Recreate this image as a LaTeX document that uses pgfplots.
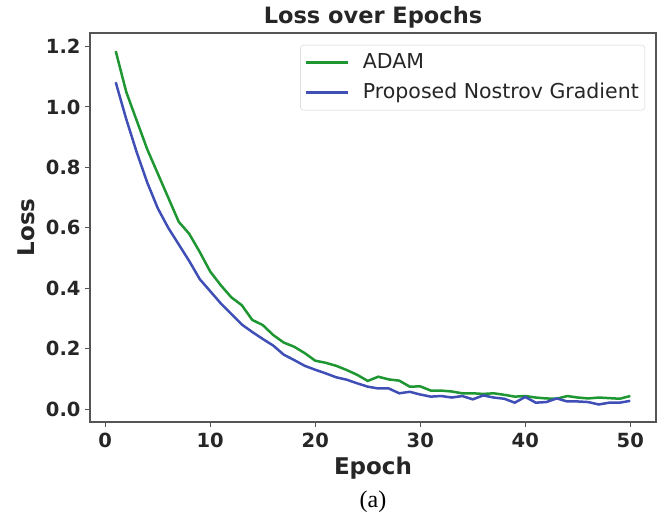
\documentclass[border=0pt]{standalone}
\usepackage{fontspec}
\setmainfont{DejaVu Sans}
\newfontfamily\capfont{Liberation Serif}
\usepackage{pgfplots}
\pgfplotsset{compat=1.18}
\definecolor{adamgreen}{HTML}{1E9632}
\definecolor{nestblue}{HTML}{3F4FB5}
\definecolor{framegray}{HTML}{555555}

\begin{document}
\begin{tikzpicture}
\useasboundingbox (-90bp,-92bp) rectangle (576bp,422bp);
\begin{axis}[
    at={(0,0)}, anchor=south west,
    scale only axis,
    width=566bp, height=389bp,
    xmin=-1.45, xmax=52.45,
    ymin=-0.043, ymax=1.245,
    xtick={0,10,20,30,40,50},
    ytick={0,0.2,0.4,0.6,0.8,1.0,1.2},
    xtick pos=left, ytick pos=left,
    tick align=outside,
    major tick length=5bp,
    tick style={framegray, line width=1bp},
    axis line style={framegray, line width=1.2bp},
    /pgf/number format/assume math mode=true,
    yticklabel style={/pgf/number format/fixed, /pgf/number format/fixed zerofill,
        /pgf/number format/precision=1, xshift=-1bp},
    ticklabel style={font=\fontsize{19.5bp}{21bp}\selectfont\bfseries, text=black!85},
    xticklabel style={yshift=-3bp},
    every axis title shift=0pt,
    title={Loss over Epochs},
    title style={font=\fontsize{22.5bp}{24bp}\selectfont\bfseries, text=black!85,
        at={(axis description cs:0.5,1)}, anchor=base, yshift=9bp, inner sep=0pt},
    xlabel={Epoch},
    xlabel style={font=\fontsize{23bp}{25bp}\selectfont\bfseries, text=black!85,
        at={(axis description cs:0.5,0)}, anchor=base, yshift=-52bp, inner sep=0pt},
    ylabel={Loss},
    ylabel style={font=\fontsize{23bp}{25bp}\selectfont\bfseries, text=black!85,
        at={(axis description cs:0,0.5)}, anchor=base, yshift=55bp, inner sep=0pt},
    legend style={at={(1,1)}, anchor=north east, xshift=-11bp, yshift=-12bp,
        draw=black!18, rounded corners=3bp, fill=white,
        font=\fontsize{20.5bp}{22bp}\selectfont, text=black!85,
        inner xsep=4bp, inner ysep=6bp, row sep=7bp, column sep=12bp,
        nodes={inner sep=2bp, text height=15bp, text depth=4bp}},
    legend cell align=left,
    legend image code/.code={\draw[#1] (0bp,0bp) -- (42bp,0bp);},
]
\addplot[adamgreen, line width=2.5bp] coordinates {
(1,1.185) (2,1.05) (3,0.955) (4,0.86) (5,0.78) (6,0.70) (7,0.62) (8,0.58)
(9,0.52) (10,0.455) (11,0.41) (12,0.37) (13,0.344) (14,0.295) (15,0.278)
(16,0.245) (17,0.22) (18,0.206) (19,0.185) (20,0.16) (21,0.153) (22,0.143)
(23,0.129) (24,0.113) (25,0.093) (26,0.107) (27,0.098) (28,0.094) (29,0.074)
(30,0.075) (31,0.061) (32,0.061) (33,0.058) (34,0.052) (35,0.052) (36,0.050)
(37,0.052) (38,0.047) (39,0.041) (40,0.043) (41,0.038) (42,0.035) (43,0.034)
(44,0.043) (45,0.038) (46,0.035) (47,0.038) (48,0.036) (49,0.034) (50,0.043)
};
\addlegendentry{ADAM}
\addplot[nestblue, line width=2.5bp] coordinates {
(1,1.082) (2,0.96) (3,0.85) (4,0.75) (5,0.665) (6,0.60) (7,0.545) (8,0.49)
(9,0.43) (10,0.39) (11,0.35) (12,0.315) (13,0.28) (14,0.255) (15,0.232)
(16,0.21) (17,0.18) (18,0.162) (19,0.143) (20,0.13) (21,0.118) (22,0.105)
(23,0.097) (24,0.085) (25,0.074) (26,0.068) (27,0.068) (28,0.052) (29,0.057)
(30,0.048) (31,0.041) (32,0.043) (33,0.038) (34,0.043) (35,0.032) (36,0.045)
(37,0.038) (38,0.034) (39,0.021) (40,0.040) (41,0.021) (42,0.023) (43,0.035)
(44,0.025) (45,0.025) (46,0.023) (47,0.015) (48,0.021) (49,0.021) (50,0.027)
};
\addlegendentry{Proposed Nostrov Gradient}
\end{axis}
\node[font=\capfont\fontsize{24bp}{26bp}\selectfont, anchor=base, inner sep=0pt]
    at (283bp,-85bp) {(a)};
\end{tikzpicture}
\end{document}
